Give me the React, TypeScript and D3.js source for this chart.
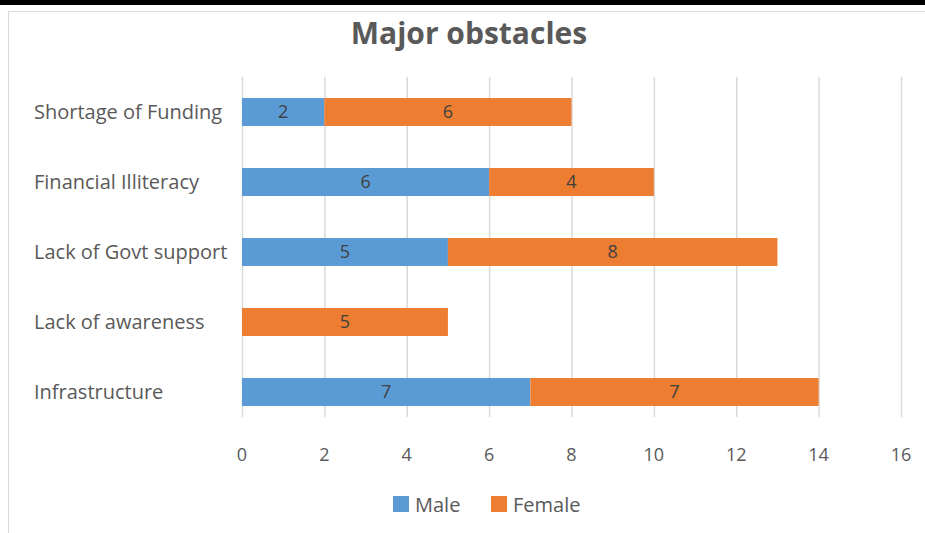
import React, { useEffect, useRef } from "react";
import * as d3 from "d3";

const categories = [
  "Shortage of Funding",
  "Financial Illiteracy",
  "Lack of Govt support",
  "Lack of awareness",
  "Infrastructure",
];
const maleValues = [2, 6, 5, 0, 7];
const femaleValues = [6, 4, 8, 5, 7];
const seriesNames = ["Male", "Female"];
const xTicks = [0, 2, 4, 6, 8, 10, 12, 14, 16];

const WIDTH = 925;
const HEIGHT = 533;
const COLORS = ["#5B9BD5", "#ED7D31"];
const FONT = "'Open Sans', 'Noto Sans', sans-serif";

export default function App() {
  const ref = useRef<SVGSVGElement | null>(null);

  useEffect(() => {
    const svg = d3.select(ref.current);
    svg.selectAll("*").remove();

    // page frame: dark rule along the top, light chart border
    svg.append("rect").attr("x", 0).attr("y", 0).attr("width", WIDTH).attr("height", 5).attr("fill", "#000");
    svg
      .append("rect")
      .attr("x", 8.5)
      .attr("y", 11.5)
      .attr("width", WIDTH + 20)
      .attr("height", HEIGHT + 20)
      .attr("fill", "#fff")
      .attr("stroke", "#d9d9d9")
      .attr("stroke-width", 1);

    svg
      .append("text")
      .attr("x", 469)
      .attr("y", 44)
      .attr("text-anchor", "middle")
      .attr("font-family", FONT)
      .attr("font-size", 30)
      .attr("font-weight", 700)
      .attr("fill", "#595959")
      .text("Major obstacles");

    const x = d3.scaleLinear().domain([0, 16]).range([242, 901]);
    const y = d3.scaleBand<string>().domain(categories).range([77, 427]).paddingInner(0.6).paddingOuter(0.3);

    // vertical gridlines
    svg
      .append("g")
      .selectAll("line")
      .data(xTicks)
      .join("line")
      .attr("x1", (d) => x(d) + 0.5)
      .attr("x2", (d) => x(d) + 0.5)
      .attr("y1", 77)
      .attr("y2", 417)
      .attr("stroke", "#d9d9d9")
      .attr("stroke-width", 1.5);

    // x tick labels
    svg
      .append("g")
      .selectAll("text")
      .data(xTicks)
      .join("text")
      .attr("x", (d) => x(d))
      .attr("y", 461)
      .attr("text-anchor", "middle")
      .attr("font-family", FONT)
      .attr("font-size", 18)
      .attr("fill", "#595959")
      .text((d) => String(d));

    // category labels
    svg
      .append("g")
      .selectAll("text")
      .data(categories)
      .join("text")
      .attr("x", 34)
      .attr("y", (d) => (y(d) as number) + y.bandwidth() / 2)
      .attr("dy", "0.35em")
      .attr("font-family", FONT)
      .attr("font-size", 20)
      .attr("fill", "#595959")
      .text((d) => d);

    // stacked segments
    const rows = categories.map((c, i) => ({ category: c, Male: maleValues[i], Female: femaleValues[i] }));
    const stack = d3.stack<any>().keys(seriesNames)(rows);

    stack.forEach((layer, si) => {
      const g = svg.append("g");
      layer.forEach((seg, i) => {
        const v = seg[1] - seg[0];
        if (v <= 0) return;
        const cat = categories[i];
        g.append("rect")
          .attr("x", x(seg[0]))
          .attr("y", y(cat) as number)
          .attr("width", x(seg[1]) - x(seg[0]))
          .attr("height", y.bandwidth())
          .attr("fill", COLORS[si]);
        g.append("text")
          .attr("x", (x(seg[0]) + x(seg[1])) / 2)
          .attr("y", (y(cat) as number) + y.bandwidth() / 2)
          .attr("dy", "0.35em")
          .attr("text-anchor", "middle")
          .attr("font-family", FONT)
          .attr("font-size", 18)
          .attr("fill", "#404040")
          .text(String(v));
      });
    });

    // legend
    const legend = svg.append("g");
    const legendItems = [
      { name: "Male", x: 393 },
      { name: "Female", x: 491 },
    ];
    legendItems.forEach((item, i) => {
      legend
        .append("rect")
        .attr("x", item.x)
        .attr("y", 496)
        .attr("width", 16)
        .attr("height", 16)
        .attr("fill", COLORS[i]);
      legend
        .append("text")
        .attr("x", item.x + 22)
        .attr("y", 505)
        .attr("dy", "0.35em")
        .attr("font-family", FONT)
        .attr("font-size", 20)
        .attr("fill", "#595959")
        .text(item.name);
    });
  }, []);

  return (
    <svg
      ref={ref}
      width={WIDTH}
      height={HEIGHT}
      style={{ position: "absolute", left: 0, top: 0, background: "#fff" }}
    />
  );
}
